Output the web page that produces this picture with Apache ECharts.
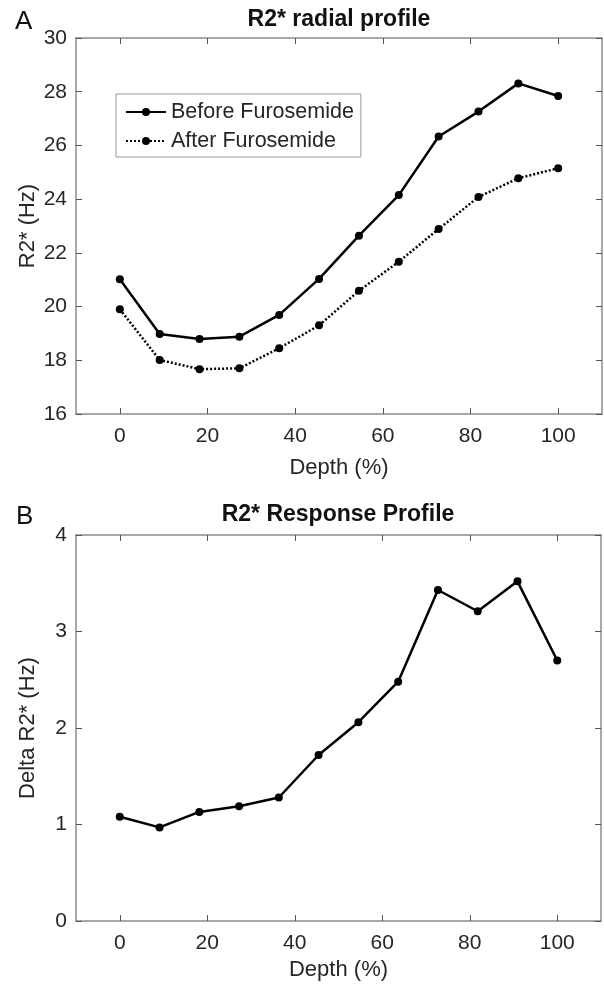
<!DOCTYPE html>
<html>
<head>
<meta charset="utf-8">
<script src="https://cdn.jsdelivr.net/npm/echarts@6/dist/echarts.min.js"></script>
<style>
html,body{margin:0;padding:0;background:#fff;}
#c{width:604px;height:988px;}
</style>
</head>
<body>
<div id="c"></div>
<script>
// ---- data ----
const depth = [0, 9.09, 18.18, 27.27, 36.36, 45.45, 54.55, 63.64, 72.73, 81.82, 90.91, 100];
const before = [21.02, 18.98, 18.79, 18.88, 19.69, 21.03, 22.64, 24.15, 26.33, 27.26, 28.31, 27.84];
const after = [19.90, 18.01, 17.67, 17.70, 18.45, 19.30, 20.59, 21.67, 22.89, 24.08, 24.78, 25.15];
const delta = [1.08, 0.97, 1.13, 1.19, 1.28, 1.72, 2.06, 2.48, 3.43, 3.21, 3.52, 2.70];
const xTicks = [0, 20, 40, 60, 80, 100];
const yTicksA = [16, 18, 20, 22, 24, 26, 28, 30];
const yTicksB = [0, 1, 2, 3, 4];
const names = ['Before Furosemide', 'After Furosemide'];

const FONT = "'Liberation Sans', Arial, sans-serif";
const TXT = '#262626';
const AX = '#8c8c8c';

function pairs(xs, ys) { return xs.map((x, i) => [x, ys[i]]); }

function xAx(gi, pos, showLabel, nameGap) {
  return {
    type: 'value', gridIndex: gi, position: pos,
    min: -10, max: 110, interval: 10,
    name: showLabel ? 'Depth (%)' : '',
    nameLocation: 'middle', nameGap: nameGap, nameMoveOverlap: false,
    nameTextStyle: { fontFamily: FONT, fontSize: 22, color: TXT },
    axisLine: { show: true, onZero: false, lineStyle: { color: AX, width: 1.5 } },
    axisTick: { show: true, inside: true, length: 6, customValues: xTicks, lineStyle: { color: '#555', width: 1 } },
    axisLabel: { show: showLabel, customValues: xTicks, margin: 12, fontFamily: FONT, fontSize: 21, color: TXT },
    splitLine: { show: false }
  };
}
function yAx(gi, pos, showLabel, min, max, ticks, name) {
  return {
    type: 'value', gridIndex: gi, position: pos,
    min: min, max: max, interval: ticks[1] - ticks[0],
    name: showLabel ? name : '',
    nameLocation: 'middle', nameGap: 37, nameRotate: 90, nameMoveOverlap: false,
    nameTextStyle: { fontFamily: FONT, fontSize: 22, color: TXT },
    axisLine: { show: true, onZero: false, lineStyle: { color: AX, width: 1.5 } },
    axisTick: { show: true, inside: true, length: 6, lineStyle: { color: '#555', width: 1 } },
    axisLabel: { show: showLabel, margin: 9, fontFamily: FONT, fontSize: 21, color: TXT },
    splitLine: { show: false }
  };
}

const chart = echarts.init(document.getElementById('c'), null, { renderer: 'canvas' });
chart.setOption({
  backgroundColor: '#fff',
  animation: false,
  grid: [
    { left: 76, right: 2, top: 38, height: 376 },
    { left: 76, right: 3, top: 535, height: 386 }
  ],
  xAxis: [
    xAx(0, 'bottom', true, 43),
    xAx(0, 'top', false, 0),
    xAx(1, 'bottom', true, 38),
    xAx(1, 'top', false, 0)
  ],
  yAxis: [
    yAx(0, 'left', true, 16, 30, yTicksA, 'R2* (Hz)'),
    yAx(0, 'right', false, 16, 30, yTicksA, ''),
    yAx(1, 'left', true, 0, 4, yTicksB, 'Delta R2* (Hz)'),
    yAx(1, 'right', false, 0, 4, yTicksB, '')
  ],
  legend: {
    data: names,
    orient: 'vertical',
    left: 116, top: 94,
    padding: [6, 7, 4, 9],
    itemGap: 5,
    itemWidth: 40, itemHeight: 10,
    borderColor: '#999', borderWidth: 1, borderRadius: 0,
    backgroundColor: '#fff',
    textStyle: { fontFamily: FONT, fontSize: 21.5, color: TXT, lineHeight: 24 }
  },
  graphic: [
    { type: 'text', left: 15, top: 9, style: { text: 'A', fontFamily: FONT, fontSize: 26, fill: '#111' } },
    { type: 'text', left: 16, top: 504, style: { text: 'B', fontFamily: FONT, fontSize: 26, fill: '#111' } },
    { type: 'text', x: 339, y: 20, style: { text: 'R2* radial profile', fontFamily: FONT, fontSize: 23, fontWeight: 'bold', fill: '#111', align: 'center', verticalAlign: 'middle' } },
    { type: 'text', x: 338, y: 515, style: { text: 'R2* Response Profile', fontFamily: FONT, fontSize: 23, fontWeight: 'bold', fill: '#111', align: 'center', verticalAlign: 'middle' } }
  ],
  series: [
    {
      name: names[0], type: 'line', xAxisIndex: 0, yAxisIndex: 0,
      data: pairs(depth, before),
      symbol: 'circle', symbolSize: 8, showSymbol: true,
      lineStyle: { color: '#000', width: 2.5 },
      itemStyle: { color: '#000' }
    },
    {
      name: names[1], type: 'line', xAxisIndex: 0, yAxisIndex: 0,
      data: pairs(depth, after),
      symbol: 'circle', symbolSize: 8, showSymbol: true,
      lineStyle: { color: '#000', width: 2.5, type: [2, 2] },
      itemStyle: { color: '#000' }
    },
    {
      name: 'Delta', type: 'line', xAxisIndex: 2, yAxisIndex: 2,
      data: pairs(depth, delta),
      symbol: 'circle', symbolSize: 8, showSymbol: true,
      lineStyle: { color: '#000', width: 2.5 },
      itemStyle: { color: '#000' }
    }
  ]
});
</script>
</body>
</html>
